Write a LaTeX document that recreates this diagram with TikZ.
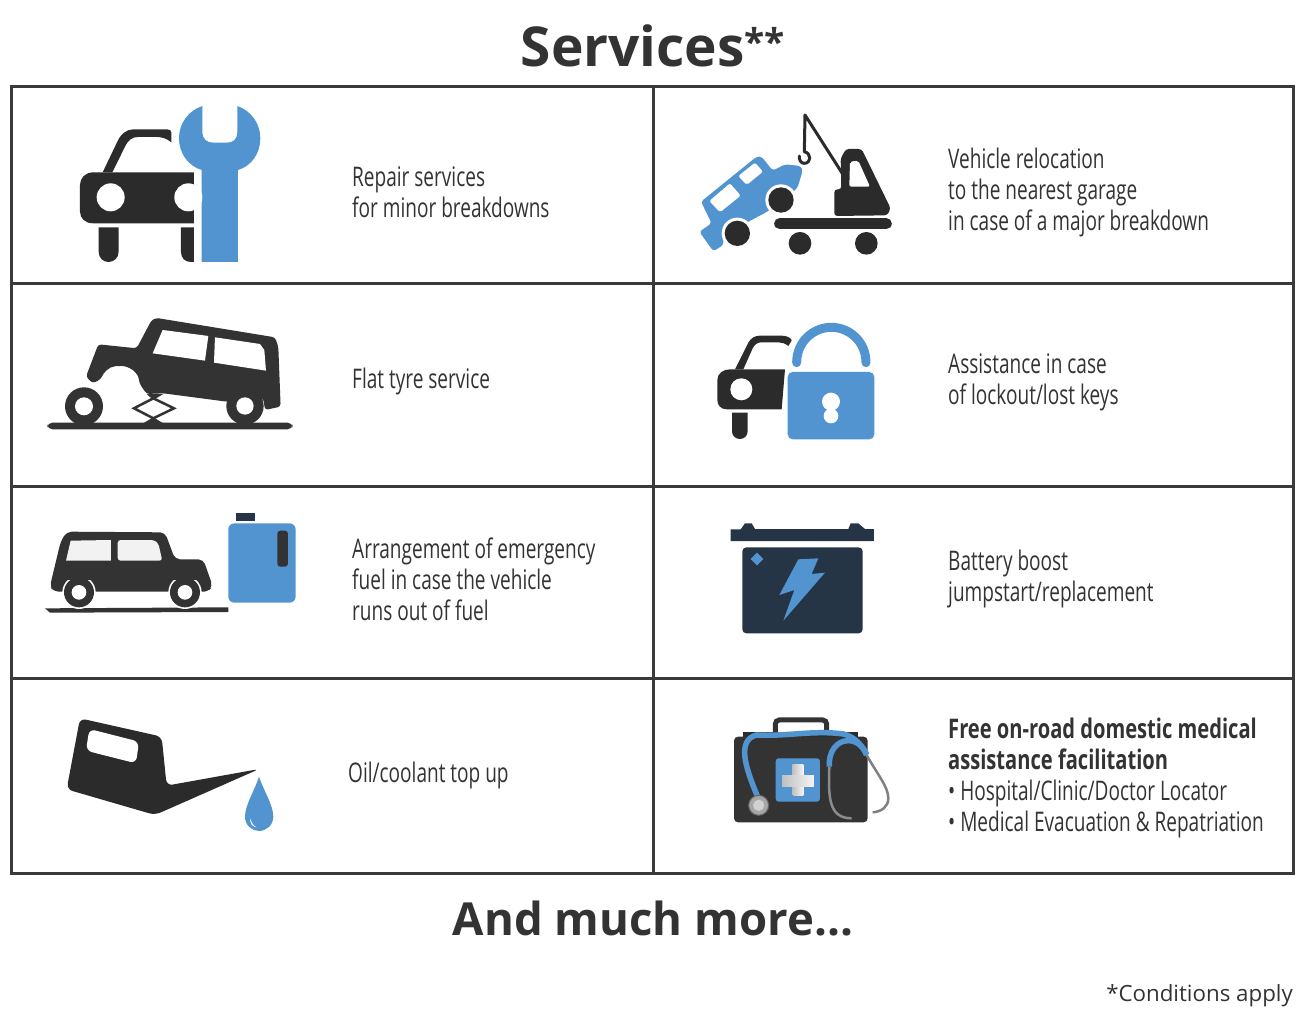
\documentclass[tikz,border=0pt]{standalone}
\usepackage{fontspec}
\setmainfont{Open Sans}
\newfontfamily\condfont[FakeStretch=0.705,BoldFeatures={FakeStretch=0.745}]{Open Sans}
\definecolor{iconblue}{HTML}{5294D0}
\definecolor{icondark}{HTML}{2B2B2B}
\definecolor{jeepdark}{HTML}{333333}
\definecolor{navy}{HTML}{263545}
\definecolor{gridline}{HTML}{3A3A3A}
\tikzset{
  bodytext/.style={anchor=west,align=left,inner sep=0pt,text=jeepdark,
    font=\condfont\fontsize{27}{31}\selectfont},
  headtext/.style={inner sep=0pt,text=jeepdark},
  blue/.style={fill=iconblue},
  dark/.style={fill=icondark},
  zoomed/.style={shift={#1},scale=0.3333}
}
\begin{document}
\begin{tikzpicture}[x=1pt,y=-1pt]
\useasboundingbox[fill=white] (0,0) rectangle (1301,1010);

% frame
\draw[gridline,line width=3pt] (11,86) rectangle (1293,873);
\foreach \rowy in {283,486,678}
  \draw[gridline,line width=3pt] (11,\rowy) -- (1293,\rowy);
\draw[gridline,line width=3pt] (653,86) -- (653,873);

% texts
\node[headtext,font=\bfseries\fontsize{55}{60}\selectfont] (title) at (653,46) {Services\raisebox{11pt}{\fontsize{37}{40}\selectfont **}};
\node[headtext,font=\bfseries\fontsize{45.5}{54}\selectfont] (more) at (653,919) {And much more...};
\node[headtext,anchor=east,font=\fontsize{22.3}{26}\selectfont] (conditions) at (1293,996) {*Conditions apply};

\node[bodytext] (repair) at (352,192) {Repair services\\for minor breakdowns};
\node[bodytext] (relocation) at (948,192.5) {Vehicle relocation\\to the nearest garage\\in case of a major breakdown};
\node[bodytext] (tyre) at (352,381) {Flat tyre service};
\node[bodytext] (lockout) at (948,382) {Assistance in case\\of lockout/lost keys};
\node[bodytext] (fuel) at (352,579) {Arrangement of emergency\\fuel in case the vehicle\\runs out of fuel};
\node[bodytext] (battery) at (948,579) {Battery boost\\jumpstart/replacement};
\node[bodytext] (oil) at (348,775) {Oil/coolant top up};
\node[bodytext] (medical) at (948,778) {\textbf{Free on-road domestic medical}\\\textbf{assistance facilitation}\\• Hospital/Clinic/Doctor Locator\\• Medical Evacuation \& Repatriation};

% repair and flat tyre icons
\begin{scope}[zoomed={(30,90)}]
\fill[blue] (517,48) .. controls (475,62) and (447,100) .. (447,145) .. controls (447,190) and (475,228) .. (515,240) -- (515,516) -- (624,516) -- (624,240) .. controls (665,228) and (691,190) .. (691,145) .. controls (691,100) and (663,62) .. (622,48) -- (622,125) .. controls (622,148) and (610,158) .. (590,158) -- (550,158) .. controls (530,158) and (518,148) .. (517,125) -- cycle;
\fill[dark] (492,247) -- (190,247) .. controls (165,247) and (150,265) .. (150,285) -- (150,365) .. controls (150,385) and (165,400) .. (190,400) -- (492,400) -- cycle;
\fill[white] (242,322) circle (42) (475,322) circle (42);
\fill[white] (492,270) rectangle (512,380);
\fill[dark] (206,412) -- (266,412) -- (266,485) .. controls (266,505) and (250,516) .. (236,516) .. controls (220,516) and (206,505) .. (206,485) -- cycle;
\fill[dark] (453,412) -- (492,412) -- (492,516) -- (483,516) .. controls (465,516) and (453,505) .. (453,485) -- cycle;
\fill[dark] (218,247) -- (262,155) .. controls (272,132) and (290,118) .. (310,118) -- (412,118) .. controls (420,118) and (424,122) .. (424,128) -- (424,157) .. controls (410,145) and (395,141) .. (380,141) -- (325,141) .. controls (305,141) and (295,150) .. (285,170) -- (247,247) -- cycle;

\fill[jeepdark,rounded corners=5pt] (52,998) rectangle (788,1018);
\fill[jeepdark,rounded corners=3pt] (380,684) -- (735,742) -- (745,770) -- (752,950) -- (705,960) -- (700,925) -- (590,935) -- (400,910) -- (350,912) -- (328,880) .. controls (325,845) and (295,828) .. (265,828) .. controls (235,830) and (220,850) .. (212,868) -- (188,880) -- (168,860) -- (205,763) -- (320,775) -- (365,690) -- cycle;
\fill[white] (398,720) -- (535,738) -- (525,812) -- (368,790) -- cycle;
\fill[white] (555,742) -- (690,762) -- (703,780) -- (708,842) -- (552,818) -- cycle;
\fill[jeepdark] (645,948) circle (56) (162,949) circle (57);
\fill[white] (645,948) circle (26) (162,949) circle (27);
\fill[jeepdark] (350,912) -- (400,912) -- (370,930) -- cycle;
\fill[jeepdark] (340,1000) -- (370,982) -- (400,1000) -- cycle;
\draw[jeepdark,line width=2.5pt] (370,925) -- (432,955) -- (370,985) -- (312,955) -- cycle;
\end{scope}

% tow truck and lock icons
\begin{scope}[zoomed={(680,100)}]
\fill[blue,rounded corners=3pt] (58,395) -- (95,370) -- (63,305) -- (230,170) -- (245,170) -- (278,212) -- (315,193) -- (362,198) -- (368,212) -- (352,265) -- (262,335) -- (130,405) -- (130,435) -- (100,454) -- cycle;
\fill[white,rounded corners=2pt] (88,303) -- (150,250) -- (182,287) -- (120,337) -- cycle;
\fill[white,rounded corners=2pt] (175,228) -- (225,188) -- (249,215) -- (200,255) -- cycle;
\fill[white] (303,300) circle (47) (172,400) circle (47);
\fill[dark] (303,300) circle (38) (172,400) circle (38);
\draw[icondark,line width=11pt,line cap=round] (299,371) -- (619,371);
\fill[dark] (360,430) circle (34) (559,430) circle (34);
\fill[dark,rounded corners=3pt] (463,348) -- (463,268) -- (484,268) -- (482,175) -- (498,147) -- (545,147) -- (632,325) -- (622,346) -- cycle;
\fill[white,rounded corners=2pt] (510,185) -- (535,182) -- (570,260) -- (508,260) -- cycle;
\draw[icondark,line width=3pt,line cap=round,line join=round] (490,225) -- (375,45) -- (373,155) .. controls (395,160) and (395,190) .. (372,190) .. controls (362,190) and (357,178) .. (358,168);

\fill[dark] (150,808) -- (315,808) -- (305,928) -- (140,928) .. controls (122,928) and (112,915) .. (112,900) -- (112,840) .. controls (112,820) and (130,808) .. (150,808) -- cycle;
\fill[white] (184,868) circle (33);
\fill[dark] (156,938) -- (203,938) -- (203,994) .. controls (203,1008) and (192,1017) .. (180,1017) .. controls (167,1017) and (156,1008) .. (156,994) -- cycle;
\fill[dark] (165,808) -- (205,728) .. controls (213,714) and (225,707) .. (240,707) -- (305,707) .. controls (322,707) and (335,715) .. (335,722) -- (325,738) .. controls (315,730) and (305,727) .. (295,727) -- (245,727) .. controls (232,727) and (225,733) .. (218,745) -- (190,808) -- cycle;
\fill[blue,rounded corners=5pt] (323,816) rectangle (583,1018);
\draw[iconblue,line width=9pt,line cap=round] (350,788) .. controls (350,725) and (400,682) .. (454,682) .. controls (508,682) and (558,725) .. (558,788);
\fill[white] (453,905) circle (27) (453,948) circle (22);
\end{scope}

% fuel and oil icons
\begin{scope}[zoomed={(30,500)}]
\fill[jeepdark] (45,325) -- (595,322) -- (595,336) -- (60,338) -- cycle;
\fill[jeepdark,rounded corners=5pt] (110,95) -- (405,97) -- (435,178) -- (520,178) -- (548,258) -- (535,275) -- (510,275) -- (420,275) -- (195,275) -- (100,275) -- (70,275) -- (60,258) -- (92,125) -- cycle;
\fill[white] (147,277) circle (50) (465,277) circle (50);
\fill[jeepdark] (147,277) circle (45) (465,277) circle (45);
\fill[white] (147,277) circle (22) (465,277) circle (22);
\fill[jeepdark] (110,190) rectangle (500,240);
\fill[black!5] (122,122) -- (243,120) -- (243,182) -- (108,182) -- cycle;
\fill[black!5,rounded corners=3pt] (263,120) -- (372,120) -- (385,130) -- (397,182) -- (263,182) -- cycle;
\fill[blue,rounded corners=6pt] (595,70) rectangle (797,308);
\fill[navy] (618,38) rectangle (674,62);
\fill[jeepdark,rounded corners=3pt] (742,92) rectangle (774,200);

\fill[dark,rounded corners=6pt] (150,655) -- (395,710) -- (410,857) -- (688,807) -- (375,945) -- (110,868) -- cycle;
\fill[white,rounded corners=6pt] (178,687) -- (327,725) -- (318,790) -- (168,752) -- cycle;
\fill[blue] (687,830) .. controls (675,870) and (645,915) .. (645,950) .. controls (645,975) and (665,993) .. (687,993) .. controls (710,993) and (730,975) .. (730,950) .. controls (730,915) and (700,870) .. (687,830);
\fill[white] (660,955) .. controls (660,970) and (668,982) .. (680,982) .. controls (670,978) and (665,968) .. (660,955);
\end{scope}

% battery and medical icons
\begin{scope}[zoomed={(700,510)}]
\fill[navy] (92,58) -- (122,58) -- (135,40) -- (155,40) -- (165,57) -- (445,57) -- (452,40) -- (475,40) -- (495,57) -- (522,57) -- (522,93) -- (92,93) -- cycle;
\fill[navy,rounded corners=4pt] (127,112) -- (488,112) -- (488,370) -- (127,370) -- cycle;
\fill[blue] (171,128) -- (190,147) -- (171,166) -- (152,147) -- cycle;
\fill[blue] (295,148) -- (355,145) -- (335,192) -- (375,188) -- (250,332) -- (283,240) -- (238,255) -- cycle;

\draw[jeepdark,line width=5pt,rounded corners=4pt] (226,670) -- (226,630) -- (380,630) -- (380,670);
\fill[icondark] (130,665) rectangle (475,685);
\fill[jeepdark,rounded corners=4pt] (102,680) rectangle (503,937);
\fill[blue,rounded corners=3pt] (227,745) rectangle (360,875);
\fill[left color=black!25,right color=black!4] (277,765) rectangle (310,858);
\fill[left color=black!25,right color=black!4] (246,798) rectangle (342,830);
\draw[black!45,line width=2.5pt] (388,770) .. controls (385,860) and (385,925) .. (455,925);
\draw[black!50,line width=2.5pt] (500,735) .. controls (530,790) and (565,830) .. (565,865) .. controls (565,890) and (545,905) .. (518,907);
\draw[iconblue,line width=5.5pt] (172,858) .. controls (135,770) and (110,690) .. (170,675) .. controls (260,680) and (340,660) .. (430,672) .. controls (465,680) and (490,710) .. (500,735);
\draw[iconblue,line width=5.5pt] (388,770) .. controls (385,725) and (410,692) .. (445,692) .. controls (470,692) and (490,710) .. (500,735);
\fill[black!35,draw=black!60,line width=1pt] (176,886) circle (30);
\fill[black!18] (176,886) circle (17);
\end{scope}
\end{tikzpicture}
\end{document}
